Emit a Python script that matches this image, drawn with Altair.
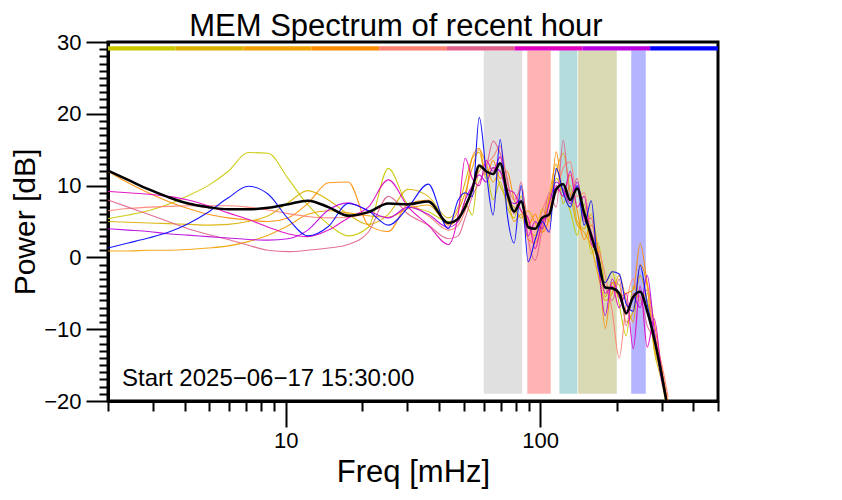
import altair as alt
import pandas as pd

FONT = "Liberation Sans"

# frequency grid (mHz) shared by all spectra
freq = [2.0, 2.40, 2.88, 3.45, 4.13, 4.95, 5.94, 7.11, 8.53, 10.2, 12.2, 14.7, 17.6, 21.1,
        25.3, 30.3, 36.3, 43.5,
        47.6, 50.7, 54.1, 57.6, 61.3, 65.3, 69.6, 74.2, 79.0, 84.2, 89.7, 95.6, 101.8,
        108.5, 115.6, 123.2, 131.2, 139.8, 148.9, 158.7, 169.0, 180.1, 191.9, 204.4,
        217.8, 232.1, 247.2, 263.4, 280.6, 299.0, 318.6]

series_names = ["s1", "s2", "s3", "s4", "s5", "s6", "s7", "s8", "s9"]
series_colors = ["#c8c800", "#d8b000", "#f0a000", "#ff8c00", "#ff8070",
                 "#e0608a", "#e000c0", "#b800e0", "#0000ff"]

yellow = [5.4, 5.9, 6.5, 7.4, 8.6, 10.0, 12.0, 14.6, 14.5, 11.0, 7.3, 4.6, 3.0, 4.2, 12.4, 7.3, 6.4, 5.0,
          5.0, 7.5, 5.9, 12.5, 12.0, 8.0, 10.5, 7.0, 5.5, 8.5, 4.5, 3.0, 6.8, 5.0, 11.0, 9.0, 6.5,
          3.1, 7.5, 0.5, 2.0, -3.5, -2.0, -6.5, -10.9, -4.0, -6.0, -5.0, -13.0, -17.0, -22.0]
gold = [5.0, 4.9, 4.8, 4.7, 4.6, 4.5, 4.6, 5.0, 5.8, 7.6, 9.3, 8.0, 6.0, 4.6, 6.0, 9.5, 8.5, 5.5,
        7.0, 10.5, 13.8, 14.6, 11.0, 12.5, 10.0, 8.0, 7.0, 5.5, 6.5, 4.8, 3.5, 8.5, 13.0, 7.5, 10.0,
        5.0, 4.0, 6.0, 1.0, -5.5, -3.5, -3.8, -9.0, -7.5, -2.5, -6.0, -10.5, -15.5, -21.0]
orange = [0.9, 0.9, 1.0, 1.0, 1.1, 1.3, 1.6, 2.2, 3.1, 4.4, 6.0, 6.5, 6.2, 5.8, 5.6, 6.8, 7.3, 4.8,
          6.5, 9.0, 12.5, 15.0, 13.0, 10.5, 12.0, 8.5, 5.0, 6.0, 2.5, 2.0, 4.5, 8.0, 12.0, 14.5, 9.0,
          4.5, 3.5, 1.5, -2.5, -6.0, -5.0, -2.5, -6.0, -9.0, -1.0, -4.0, -12.5, -16.0, -20.5]
darkorange = [12.0, 10.4, 9.0, 7.8, 6.8, 6.0, 5.5, 5.2, 5.0, 5.5, 7.5, 10.4, 10.5, 4.5, 3.6, 7.5, 8.0, 4.5,
              5.5, 8.0, 14.0, 15.2, 11.5, 13.5, 11.0, 12.0, 8.0, 6.5, 4.5, 6.0, 3.5, 5.5, 14.7, 9.0, 11.5,
              6.5, 2.5, 4.5, 0.5, -9.9, -3.5, -5.5, -5.0, -4.5, 1.9, -3.5, -9.0, -15.0, -20.5]
salmon = [6.5, 6.8, 7.0, 7.1, 7.2, 7.2, 7.2, 7.0, 6.6, 6.1, 5.7, 5.5, 5.6, 6.2, 7.5, 7.4, 5.8, 3.8,
          4.5, 6.5, 10.0, 12.0, 13.0, 14.0, 15.5, 10.5, 8.0, 9.5, 5.0, 2.5, 6.5, 8.5, 9.0, 12.5, 13.3,
          8.5, 9.0, 3.5, 1.5, -2.5, -7.5, -14.0, -6.5, -3.0, -6.5, -4.5, -11.0, -14.5, -19.5]
pink = [8.0, 7.0, 6.0, 5.0, 4.0, 3.2, 2.5, 1.7, 1.0, 0.8, 1.0, 1.3, 1.8, 3.5, 8.5, 6.0, 4.5, 2.6,
        3.0, 5.5, 8.5, 10.5, 12.5, 16.2, 14.5, 11.0, 6.0, 10.5, 2.5, -0.4, 4.0, 9.0, 7.0, 16.3, 8.5,
        11.0, 5.0, 5.5, -1.5, -4.0, -6.0, -3.0, -9.5, -5.0, -5.5, -9.5, -11.5, -17.0, -21.0]
magenta = [9.2, 9.0, 8.8, 8.5, 8.0, 7.2, 6.2, 5.3, 4.2, 3.3, 2.9, 3.8, 5.5, 7.0, 10.8, 7.0, 4.5, 1.8,
           6.0, 13.8, 11.0, 10.0, 13.5, 12.0, 14.0, 9.5, 9.0, 6.5, 5.5, 1.2, 5.0, 6.0, 10.0, 8.5, 12.0,
           7.0, 8.5, 2.0, 0.5, -5.0, -4.0, -7.0, -5.0, -12.7, -4.0, -12.5, -8.5, -15.5, -21.0]
purple = [4.0, 3.8, 3.6, 3.3, 3.1, 2.9, 2.7, 2.5, 2.4, 2.6, 3.8, 6.6, 7.6, 6.5, 5.5, 7.0, 6.0, 4.2,
          5.0, 8.0, 10.0, 11.5, 10.5, 12.5, 12.0, 8.5, 7.5, 8.0, 3.0, 5.0, 4.0, 7.5, 10.5, 9.5, 7.5,
          10.5, 5.5, 3.5, -1.0, -8.1, -3.0, -5.5, -7.5, -5.5, -7.0, -2.5, -10.0, -16.5, -20.5]
blue = [1.3, 2.0, 2.7, 3.5, 4.7, 6.3, 8.3, 9.9, 8.8, 5.4, 3.0, 4.3, 7.5, 6.5, 4.5, 7.0, 10.2, 4.0,
        8.0, 9.0, 8.5, 19.5, 12.0, 5.9, 16.4, 6.0, 2.0, 10.0, -0.6, 2.5, 5.0, 3.5, 12.4, 9.0, 7.0,
        10.0, 4.5, 7.9, -1.5, -3.5, -2.0, -2.3, -6.5, -7.5, -1.1, -6.5, -11.0, -16.5, -21.0]

mean_db = [12.1, 10.8, 9.5, 8.4, 7.5, 7.0, 6.7, 6.7, 6.9, 7.4, 7.9, 7.0, 5.8, 6.3, 7.5, 7.4, 7.8, 4.8,
           5.4, 7.0, 9.5, 12.8, 12.0, 11.6, 13.1, 9.0, 6.4, 7.8, 4.2, 4.0, 5.5, 6.0, 9.5, 10.2, 8.0,
           9.6, 6.2, 3.0, -0.2, -4.2, -4.3, -5.0, -7.8, -5.5, -4.8, -7.5, -11.3, -16.0, -21.5]

series_values = [yellow, gold, orange, darkorange, salmon, pink, magenta, purple, blue]

# frequency bands (mHz)
band_lo = [60, 89, 119, 141, 228]
band_hi = [85, 110, 140, 200, 260]
band_colors = ["#e0e0e0", "#ffb4b4", "#b4dcdc", "#d9d9b4", "#b4b4ff"]

# colour key strip along the top
strip_edges = [2, 3.69, 6.82, 12.6, 23.3, 43.0, 79.3, 146.5, 270.5, 500]

title_text = "MEM Spectrum of recent hour"
start_text = "Start 2025\u221206\u221217 15:30:00"

rows = []
for name, vals in zip(series_names, series_values):
    for f, v in zip(freq, vals):
        rows.append({"series": name, "freq": f, "db": v})
lines_df = pd.DataFrame(rows)
mean_df = pd.DataFrame({"freq": freq, "db": mean_db})
bands_df = pd.DataFrame({"lo": band_lo, "hi": band_hi, "col": band_colors,
                         "bot": [-19.0] * 5, "top": [28.8] * 5})
strip_df = pd.DataFrame({"lo": strip_edges[:-1], "hi": strip_edges[1:], "col": series_colors,
                         "bot": [28.8] * 9, "top": [29.4] * 9})
text_df = pd.DataFrame({"freq": [2.27], "db": [-17.9], "label": [start_text]})
title_df = pd.DataFrame({"freq": [27.1], "db": [30.84], "label": [title_text]})

x_scale = alt.Scale(type="log", domain=[2, 500], nice=False)
y_scale = alt.Scale(domain=[-20, 30], nice=False, zero=False)

major_x = alt.Axis(values=[10, 100], format="d", tickSize=26, tickWidth=2, tickColor="black",
                   domainWidth=3, domainColor="black", labelFontSize=22, labelFont=FONT,
                   labelColor="black", labelPadding=3, title="Freq [mHz]", titleFontSize=31,
                   titleFont=FONT, titleFontWeight="normal", titleColor="black", titlePadding=6,
                   grid=False, orient="bottom", labelFlush=False)
minor_x = alt.Axis(values=[2, 3, 4, 5, 6, 7, 8, 9, 20, 30, 40, 50, 60, 70, 80, 90, 200, 300, 400, 500],
                   tickSize=10, tickWidth=2, tickColor="black", labels=False, domain=False,
                   title=None, grid=False, orient="bottom")
major_y = alt.Axis(values=[-20, -10, 0, 10, 20, 30], tickSize=22, tickWidth=2, tickColor="black",
                   domainWidth=3, domainColor="black", labelFontSize=22, labelFont=FONT,
                   labelColor="black", labelPadding=5, title="Power [dB]", titleFontSize=30,
                   titleFont=FONT, titleFontWeight="normal", titleColor="black", titlePadding=3,
                   grid=False, orient="left", labelFlush=False)
minor_y = alt.Axis(values=[v for v in range(-20, 31) if v % 10 != 0], tickSize=9, tickWidth=2,
                   tickColor="black", labels=False, domain=False, title=None, grid=False,
                   orient="left")

bands = alt.Chart(bands_df).mark_rect().encode(
    x=alt.X("lo:Q", scale=x_scale, axis=major_x),
    x2="hi:Q",
    y=alt.Y("bot:Q", scale=y_scale, axis=major_y),
    y2="top:Q",
    color=alt.Color("col:N", scale=None),
)

lines = alt.Chart(lines_df).mark_line(interpolate="monotone", strokeWidth=1.1, clip=True, opacity=0.9).encode(
    x=alt.X("freq:Q", scale=x_scale, axis=minor_x),
    y=alt.Y("db:Q", scale=y_scale, axis=minor_y),
    color=alt.Color("series:N", scale=alt.Scale(domain=series_names, range=series_colors), legend=None),
)

mean_line = alt.Chart(mean_df).mark_line(interpolate="monotone", strokeWidth=2.5, color="black", clip=True).encode(
    x=alt.X("freq:Q", scale=x_scale, axis=None),
    y=alt.Y("db:Q", scale=y_scale, axis=None),
)

strip = alt.Chart(strip_df).mark_rect().encode(
    x=alt.X("lo:Q", scale=x_scale, axis=None),
    x2="hi:Q",
    y=alt.Y("bot:Q", scale=y_scale, axis=None),
    y2="top:Q",
    color=alt.Color("col:N", scale=None),
)

label = alt.Chart(text_df).mark_text(align="left", baseline="alphabetic", fontSize=24, font=FONT,
                                      color="black").encode(
    x=alt.X("freq:Q", scale=x_scale, axis=None),
    y=alt.Y("db:Q", scale=y_scale, axis=None),
    text="label:N",
)

title = alt.Chart(title_df).mark_text(align="center", baseline="alphabetic", fontSize=31, font=FONT,
                                       color="black").encode(
    x=alt.X("freq:Q", scale=x_scale, axis=None),
    y=alt.Y("db:Q", scale=y_scale, axis=None),
    text="label:N",
)

chart = alt.layer(bands, lines, mean_line, strip, label, title).resolve_axis(
    x="independent", y="independent"
).properties(
    width=610,
    height=359,
    autosize=alt.AutoSizeParams(type="none"),
    padding={"left": 100, "top": 34, "right": 116, "bottom": 91},
).configure_view(stroke="black", strokeWidth=3)

chart.save("out.html", embed_options={"renderer": "svg", "actions": False})
